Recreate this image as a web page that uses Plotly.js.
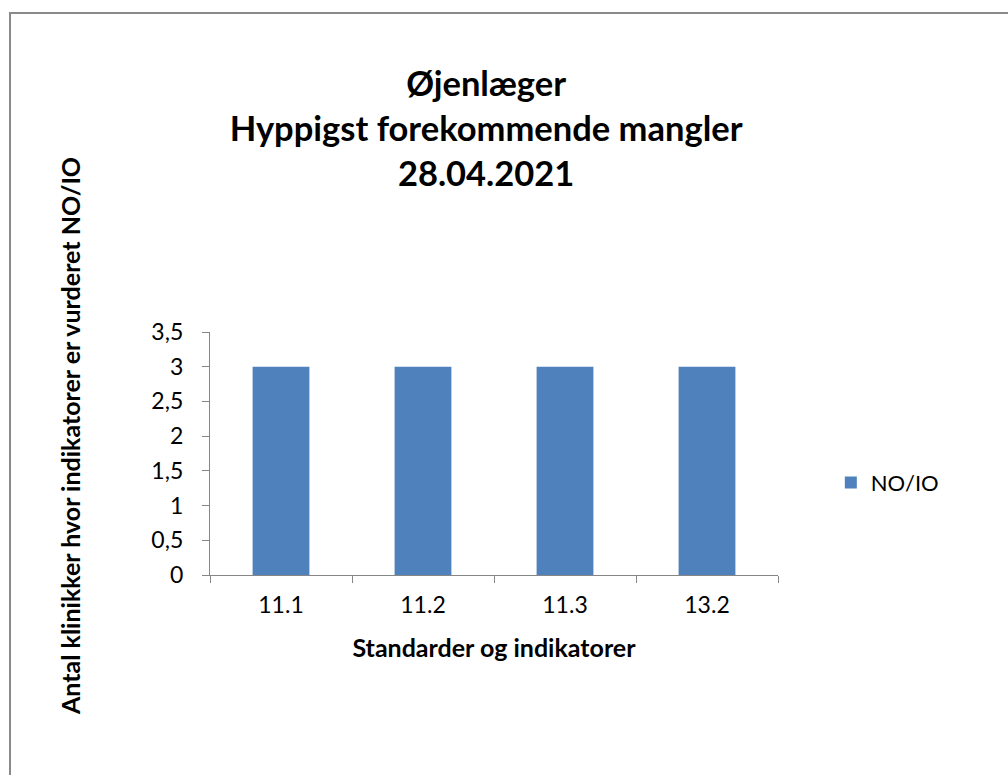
<!DOCTYPE html>
<html>
<head>
<meta charset="utf-8">
<script src="https://cdn.plot.ly/plotly-3.0.1.min.js"></script>
<style>html,body{margin:0;padding:0;background:#fff;}#chart{width:1008px;height:775px;}</style>
</head>
<body>
<div id="chart"></div>
<script>
const categories = ["11.1", "11.2", "11.3", "13.2"];
const values = [3, 3, 3, 3];
const seriesName = "NO/IO";
const titleLines = ["Øjenlæger", "Hyppigst forekommende mangler", "28.04.2021"];
const xTitle = "Standarder og indikatorer";
const yTitle = "Antal klinikker hvor indikatorer er vurderet NO/IO";

const FONT = "Lato, Carlito, Calibri, sans-serif";
const AX = "#868686";

const data = [{
  type: "bar",
  x: categories,
  y: values,
  name: seriesName,
  marker: {color: "#4F81BD", line: {width: 0}},
  showlegend: true,
  hoverinfo: "x+y"
}];

const layout = {
  width: 1008, height: 775,
  margin: {l: 210, r: 230, t: 332, b: 200},
  paper_bgcolor: "#fff", plot_bgcolor: "#fff",
  separators: ",.",
  font: {family: FONT, color: "#000", size: 22},
  bargap: 0.6,
  title: {
    text: titleLines.map(s => "<b>" + s + "</b>").join("<br>"),
    font: {family: FONT, size: 34.5, color: "#000"},
    x: 490/1008, xanchor: "center", xref: "paper",
    y: 1 - 96/775, yanchor: "top", yref: "container"
  },
  xaxis: {
    type: "category",
    showline: true, linecolor: AX, linewidth: 1.3,
    ticks: "outside", tickson: "boundaries", ticklen: 7, tickcolor: AX, tickwidth: 1.3,
    showgrid: false, zeroline: false,
    tickfont: {family: FONT, size: 23, color: "#000"},
    ticklabelstandoff: 9,
    title: {text: "<b>" + xTitle + "</b>", font: {family: FONT, size: 25, color: "#000"}, standoff: 22}
  },
  yaxis: {
    range: [0, 3.5], dtick: 0.5, tick0: 0,
    showline: true, linecolor: AX, linewidth: 1.3,
    ticks: "outside", ticklen: 7, tickcolor: AX, tickwidth: 1.3,
    showgrid: false, zeroline: false,
    tickfont: {family: FONT, size: 23, color: "#000"},
    ticklabelstandoff: 14
  },
  legend: {
    x: 1.093, xanchor: "left", y: 0.38, yanchor: "middle",
    font: {family: FONT, size: 22, color: "#000"},
    bgcolor: "rgba(0,0,0,0)"
  },
  annotations: [{
    text: "<b>" + yTitle + "</b>",
    textangle: -90,
    xref: "paper", yref: "paper",
    x: (70 - 210)/568, y: (575 - 436)/243,
    xanchor: "center", yanchor: "middle",
    showarrow: false,
    font: {family: FONT, size: 25, color: "#000"}
  }],
  shapes: [{
    type: "rect", xref: "paper", yref: "paper",
    x0: (10 - 210)/568, x1: (1015 - 210)/568,
    y0: (575 - 785)/243, y1: (575 - 13)/243,
    line: {color: "#8a8a8a", width: 2}, fillcolor: "rgba(0,0,0,0)", layer: "below"
  }]
};

Plotly.newPlot("chart", data, layout, {displayModeBar: false, staticPlot: false});
</script>
</body>
</html>
